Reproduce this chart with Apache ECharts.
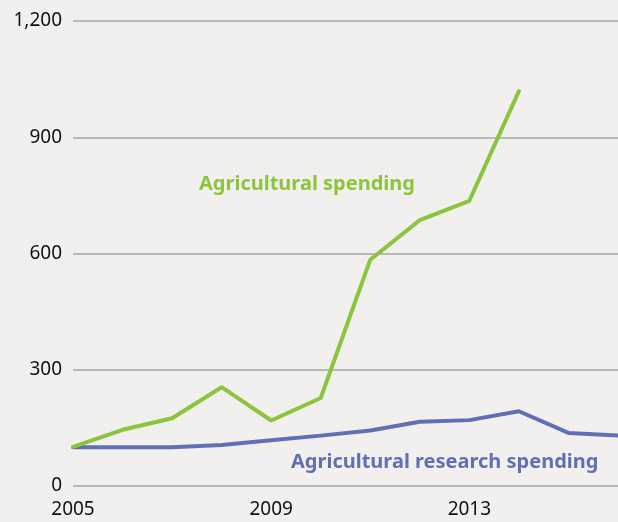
<!DOCTYPE html>
<html>
<head>
<meta charset="utf-8">
<script src="https://cdn.jsdelivr.net/npm/echarts@6/dist/echarts.min.js"></script>
<style>
  html, body { margin: 0; padding: 0; background: #f1f0ef; }
  #chart { width: 618px; height: 522px; }
</style>
</head>
<body>
<div id="chart"></div>
<script>
// years on the x axis
const years = ['2005', '2006', '2007', '2008', '2009', '2010', '2011', '2012', '2013', '2014', '2015', '2016']
// agricultural spending (stops at 2014)
const agriSpending = [101, 145, 175, 255, 169, 227, 584, 686, 736, 1019, null, null]
// agricultural research spending
const researchSpending = [100, 100, 100, 106, 118, 130, 143, 166, 170, 193, 137, 130]

const green = '#8cc43e'
const blue = '#6170b2'
const font = 'Noto Sans'

const chart = echarts.init(document.getElementById('chart'))
const option = {
  backgroundColor: '#f1f0ef',
  animation: false,
  grid: { left: 73, right: 0, top: 21, bottom: 36, containLabel: false },
  xAxis: {
    type: 'category',
    data: years,
    boundaryGap: false,
    axisLine: { show: false },
    axisTick: { show: false },
    axisLabel: {
      interval: 3,
      margin: 14,
      color: '#111',
      fontFamily: font,
      fontSize: 19
    }
  },
  yAxis: {
    type: 'value',
    min: 0,
    max: 1200,
    interval: 300,
    axisLine: { show: false },
    axisTick: { show: false },
    axisLabel: {
      margin: 11,
      color: '#111',
      fontFamily: font,
      fontSize: 19,
      formatter: v => v.toLocaleString('en-US')
    },
    splitLine: { lineStyle: { color: '#a7a7a7', width: 1.5 } }
  },
  series: [
    {
      name: 'Agricultural spending',
      type: 'line',
      data: agriSpending,
      showSymbol: false,
      lineStyle: { color: green, width: 4, cap: 'round' },
      z: 3
    },
    {
      name: 'Agricultural research spending',
      type: 'line',
      data: researchSpending,
      showSymbol: false,
      lineStyle: { color: blue, width: 4, cap: 'round' },
      z: 2
    }
  ],
  graphic: [
    {
      type: 'text',
      left: 199,
      top: 174,
      style: { text: 'Agricultural spending', fill: green, font: 'bold 20px "Noto Sans"' }
    },
    {
      type: 'text',
      left: 291,
      top: 452,
      style: { text: 'Agricultural research spending', fill: blue, font: 'bold 20px "Noto Sans"' }
    }
  ]
}
chart.setOption(option)
</script>
</body>
</html>
